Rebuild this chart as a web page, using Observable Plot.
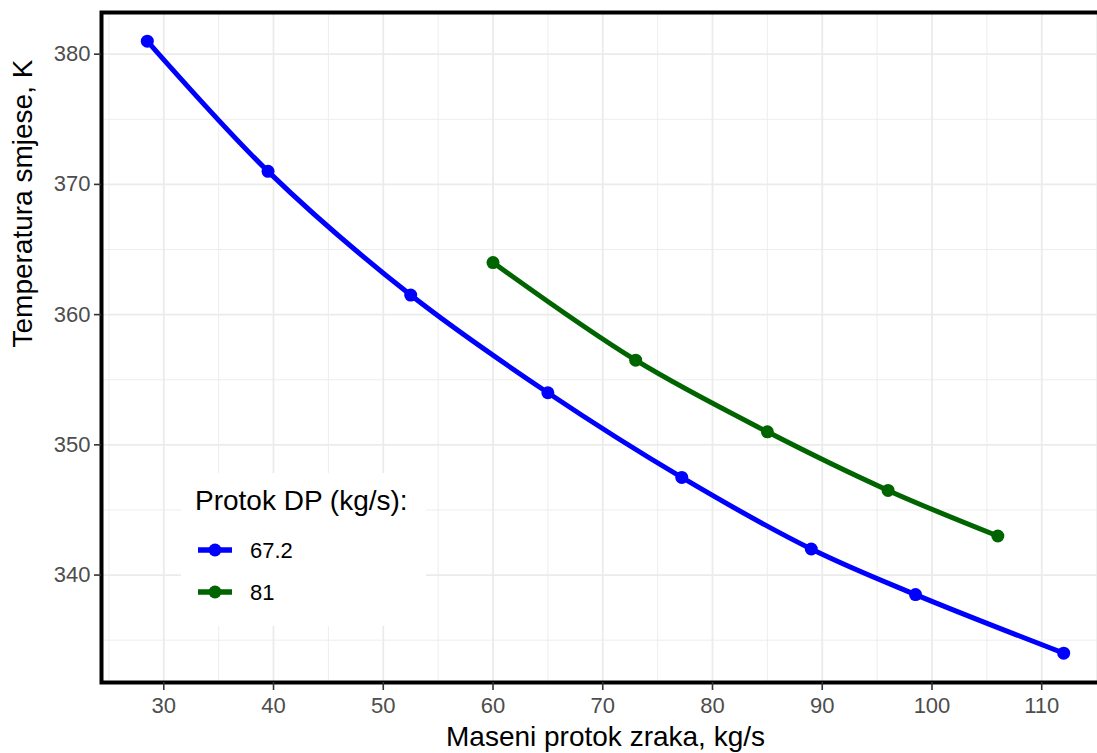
<!DOCTYPE html>
<html>
<head>
<meta charset="utf-8">
<script src="https://cdn.jsdelivr.net/npm/d3@7"></script>
<script src="https://cdn.jsdelivr.net/npm/@observablehq/plot@0.6"></script>
<style>
  html, body { margin: 0; padding: 0; background: #fff; overflow: hidden; }
  #wrap { position: relative; width: 1097px; height: 753px; overflow: hidden; font-family: "Liberation Sans", Arial, Helvetica, sans-serif; }
  #chart svg { max-width: none !important; width: 1109px !important; height: 753px !important; }
  #legend { position: absolute; left: 181px; top: 473px; width: 245px; height: 153px; background: #fff; }
  #legend .title { position: absolute; left: 14px; top: 12px; font-size: 28px; color: #000; white-space: nowrap; }
  #legend svg { position: absolute; left: 0; top: 0; }
</style>
</head>
<body>
<div id="wrap"><div id="chart"></div><div id="legend"></div></div>
<script>
// Data
const seriesNames = ["67.2", "81"];
const seriesColors = ["#0000ff", "#006400"];
const blueX = [28.5, 39.5, 52.5, 65, 77.2, 89, 98.5, 112];
const blueY = [381, 371, 361.5, 354, 347.5, 342, 338.5, 334];
const greenX = [60, 73, 85, 96, 106];
const greenY = [364, 356.5, 351, 346.5, 343];
const xMajor = [30, 40, 50, 60, 70, 80, 90, 100, 110];
const xMinor = [25, 35, 45, 55, 65, 75, 85, 95, 105, 115];
const yMajor = [340, 350, 360, 370, 380];
const yMinor = [335, 345, 355, 365, 375];
const xTitle = "Maseni protok zraka, kg/s";
const yTitle = "Temperatura smjese, K";
const legendTitle = "Protok DP (kg/s):";

const data = [
  ...blueX.map((x, i) => ({x, y: blueY[i], s: seriesNames[0]})),
  ...greenX.map((x, i) => ({x, y: greenY[i], s: seriesNames[1]}))
];

const font = "Liberation Sans, Arial, Helvetica, sans-serif";
const chart = Plot.plot({
  width: 1109,
  height: 753,
  marginLeft: 101,
  marginRight: 0,
  marginTop: 12,
  marginBottom: 71,
  style: {fontFamily: font, background: "#fff", overflow: "visible", maxWidth: "none"},
  x: {domain: [24.325, 116.175]},
  y: {domain: [331.75, 383.2]},
  color: {domain: seriesNames, range: seriesColors},
  marks: [
    Plot.gridX(xMinor, {stroke: "#ebebeb", strokeOpacity: 1, strokeWidth: 0.9}),
    Plot.gridY(yMinor, {stroke: "#ebebeb", strokeOpacity: 1, strokeWidth: 0.9}),
    Plot.gridX(xMajor, {stroke: "#ebebeb", strokeOpacity: 1, strokeWidth: 1.8}),
    Plot.gridY(yMajor, {stroke: "#ebebeb", strokeOpacity: 1, strokeWidth: 1.8}),
    Plot.line(data, {x: "x", y: "y", z: "s", stroke: "s", strokeWidth: 5, curve: "catmull-rom"}),
    Plot.dot(data, {x: "x", y: "y", fill: "s", r: 6.5}),
    Plot.frame({stroke: "#000", strokeWidth: 4}),
    Plot.axisX(xMajor, {tickSize: 8, tickPadding: 7, stroke: "#333", strokeWidth: 1.6, fontSize: 22, fill: "#4d4d4d", label: null}),
    Plot.axisY(yMajor, {tickSize: 7, tickPadding: 4, stroke: "#333", strokeWidth: 1.6, fontSize: 22, fill: "#4d4d4d", label: null}),
    Plot.text([xTitle], {frameAnchor: "bottom", dy: 55, fontSize: 28, fill: "#000", lineAnchor: "middle"}),
    Plot.text([yTitle], {frameAnchor: "left", dx: -78, rotate: -90, fontSize: 28, fill: "#000", lineAnchor: "middle"})
  ]
});
document.getElementById("chart").appendChild(chart);

// Legend (inside panel, ggplot style)
const legend = document.getElementById("legend");
const t = document.createElement("div");
t.className = "title";
t.textContent = legendTitle;
legend.appendChild(t);
const ls = d3.select(legend).append("svg").attr("width", 245).attr("height", 153);
seriesNames.forEach((name, i) => {
  const cy = 77 + i * 42;
  const g = ls.append("g");
  g.append("line").attr("x1", 17).attr("x2", 51).attr("y1", cy).attr("y2", cy)
    .attr("stroke", seriesColors[i]).attr("stroke-width", 5.5);
  g.append("circle").attr("cx", 34).attr("cy", cy).attr("r", 6.5).attr("fill", seriesColors[i]);
  g.append("text").attr("x", 69).attr("y", cy + 8).attr("font-size", 22)
    .attr("font-family", font).attr("fill", "#000").text(name);
});
</script>
</body>
</html>
